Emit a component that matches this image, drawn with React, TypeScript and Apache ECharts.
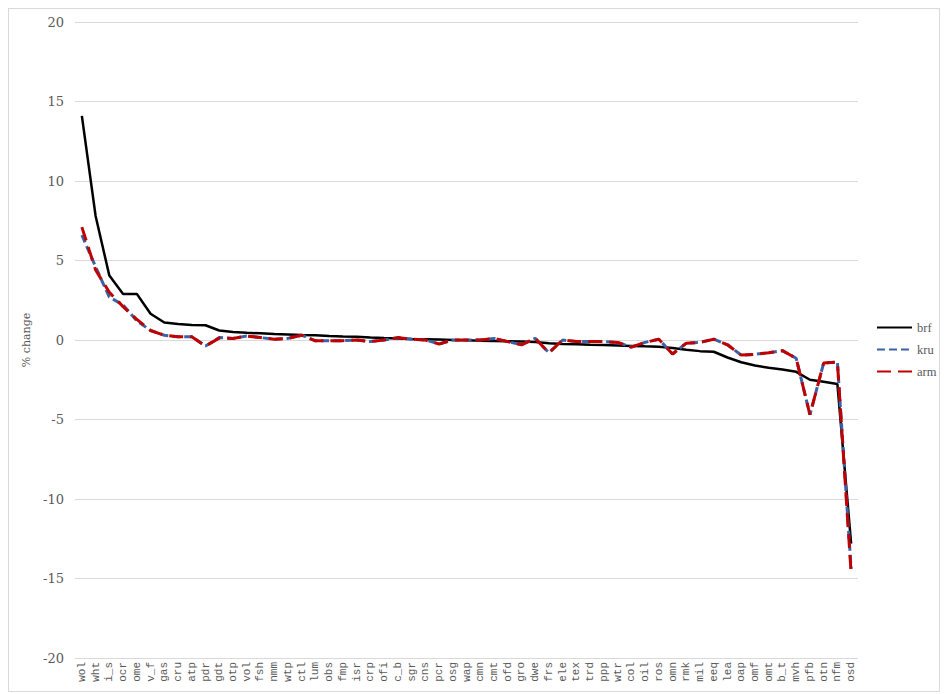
import React, { useEffect, useRef } from "react";
import * as echarts from "echarts";

const categories = [
  "wol", "wht", "i_s", "ocr", "ome", "v_f", "gas", "cru", "atp", "pdr",
  "gdt", "otp", "vol", "fsh", "nmm", "wtp", "ctl", "lum", "obs", "fmp",
  "isr", "crp", "ofi", "c_b", "sgr", "cns", "pcr", "osg", "wap", "cmn",
  "cmt", "ofd", "gro", "dwe", "frs", "ele", "tex", "trd", "ppp", "wtr",
  "col", "oil", "ros", "omn", "rmk", "mil", "eeq", "lea", "oap", "omf",
  "omt", "b_t", "mvh", "pfb", "otn", "nfm", "osd",
];

const brf = [
  14.1, 7.8, 4.05, 2.9, 2.9, 1.65, 1.1, 1.0, 0.95, 0.93,
  0.6, 0.5, 0.45, 0.42, 0.38, 0.35, 0.32, 0.3, 0.25, 0.22,
  0.2, 0.15, 0.12, 0.1, 0.07, 0.05, 0.03, 0.0, -0.02, -0.04,
  -0.06, -0.08, -0.1, -0.12, -0.2, -0.25, -0.27, -0.3, -0.32, -0.34,
  -0.37, -0.4, -0.42, -0.5, -0.62, -0.7, -0.74, -1.1, -1.4, -1.6,
  -1.75, -1.85, -2.0, -2.5, -2.62, -2.77, -12.8,
];

const kru = [
  6.6, 4.6, 2.7, 2.2, 1.2, 0.6, 0.3, 0.2, 0.2, -0.38,
  0.15, 0.1, 0.25, 0.15, 0.05, 0.1, 0.3, -0.05, -0.04, -0.04,
  0.0, -0.1, 0.0, 0.15, 0.05, 0.0, -0.25, 0.0, 0.0, 0.0,
  0.1, -0.1, -0.3, 0.1, -0.8, 0.0, -0.1, -0.1, -0.1, -0.15,
  -0.45, -0.15, 0.05, -0.88, -0.2, -0.15, 0.05, -0.3, -0.95, -0.9,
  -0.8, -0.67, -1.15, -4.7, -1.45, -1.38, -14.4,
];

const arm = [
  7.1, 4.4, 3.0, 2.1, 1.3, 0.6, 0.3, 0.2, 0.2, -0.38,
  0.12, 0.1, 0.25, 0.15, 0.05, 0.1, 0.3, -0.05, -0.04, -0.04,
  0.0, -0.1, 0.0, 0.15, 0.05, 0.0, -0.25, 0.0, 0.0, 0.0,
  0.1, -0.1, -0.3, 0.1, -0.8, 0.0, -0.1, -0.1, -0.1, -0.15,
  -0.45, -0.15, 0.05, -0.88, -0.2, -0.15, 0.05, -0.3, -0.95, -0.9,
  -0.8, -0.67, -1.15, -4.7, -1.45, -1.38, -14.7,
];

const yTicks = { min: -20, max: 20, interval: 5 };

const TEXT = "#595959";
const SERIF = "'DejaVu Serif', serif";

export default function App() {
  const ref = useRef<HTMLDivElement>(null);

  useEffect(() => {
    if (!ref.current) return;
    const chart = echarts.init(ref.current, undefined, { renderer: "svg" });
    chart.setOption({
      animation: false,
      backgroundColor: "#ffffff",
      grid: { left: 66, right: 81, top: 13, bottom: 33 },
      legend: {
        orient: "vertical",
        left: 867,
        top: 312,
        padding: 0,
        itemWidth: 35,
        itemHeight: 14,
        itemGap: 9,
        itemStyle: { opacity: 0 },
        textStyle: { color: TEXT, fontFamily: "'Liberation Serif', serif", fontSize: 12.5 },
        data: ["brf", "kru", "arm"],
      },
      xAxis: {
        type: "category",
        data: categories,
        boundaryGap: true,
        axisLine: { show: false },
        axisTick: { show: false },
        axisLabel: {
          rotate: 90,
          interval: 0,
          margin: 4,
          color: TEXT,
          fontFamily: "'Liberation Mono', monospace",
          fontSize: 11,
        },
      },
      yAxis: {
        type: "value",
        min: yTicks.min,
        max: yTicks.max,
        interval: yTicks.interval,
        name: "% change",
        nameLocation: "middle",
        nameGap: 34,
        nameTextStyle: { color: TEXT, fontFamily: SERIF, fontSize: 11 },
        axisLine: { show: false },
        axisTick: { show: false },
        axisLabel: { color: TEXT, fontFamily: SERIF, fontSize: 13, margin: 11 },
        splitLine: { lineStyle: { color: "#d9d9d9", width: 1 } },
      },
      series: [
        {
          name: "brf",
          type: "line",
          data: brf,
          symbol: "none",
          color: "#000000",
          lineStyle: { color: "#000000", width: 2.5 },
        },
        {
          name: "kru",
          type: "line",
          data: kru,
          symbol: "none",
          color: "#3A62A7",
          lineStyle: { color: "#3A62A7", width: 3, type: [8, 4] },
        },
        {
          name: "arm",
          type: "line",
          data: arm,
          symbol: "none",
          color: "#C00000",
          lineStyle: { color: "#C00000", width: 3, type: [14, 7] },
        },
      ],
    });
    return () => chart.dispose();
  }, []);

  return (
    <div
      style={{
        width: 932,
        height: 684,
        border: "1px solid #d9d9d9",
        boxSizing: "border-box",
      }}
    >
      <div ref={ref} style={{ width: 930, height: 682 }} />
    </div>
  );
}
